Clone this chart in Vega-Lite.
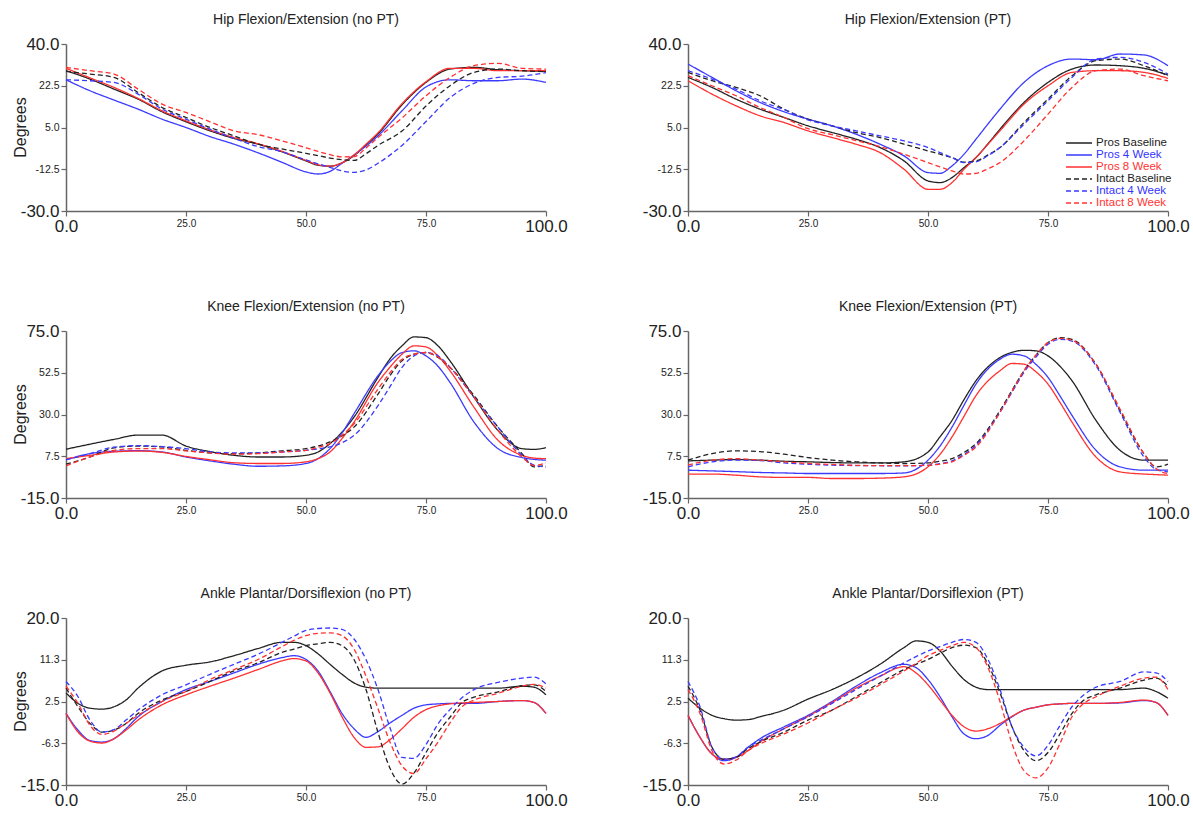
{
"$schema": "https://vega.github.io/schema/vega-lite/v6.json",
"padding": {"left": 12, "top": 13, "right": 0, "bottom": 0},
"background": "white",
"config": {
 "font": "Liberation Sans",
 "view": {"stroke": null},
 "title": {"fontSize": 14, "fontWeight": "normal", "font": "Liberation Sans", "color": "#222", "offset": 8, "anchor": "middle"},
 "axis": {"domainColor": "#666", "domainWidth": 1.5, "tickColor": "#666", "tickWidth": 1.2, "tickSize": 5, "labelColor": "#222", "labelFont": "Liberation Sans", "labelPadding": 2, "titleFont": "Liberation Sans", "titleFontSize": 16, "titleFontWeight": "normal", "titleColor": "#222", "grid": false, "labelOverlap": false, "labelFlush": false, "labelBound": false},
 "legend": {"orient": "none", "legendX": 1007, "legendY": 93, "symbolType": "M-2.6,0H2.6", "symbolStrokeWidth": 1.3, "symbolSize": 100, "labelFontSize": 11.5, "labelFont": "Liberation Sans", "rowPadding": 0, "labelOffset": 11, "padding": 0}
},
"datasets": {"gait": [
{"p":"h0","x":0,"PB":28.8,"P4":25,"P8":29.8,"IB":28.5,"I4":25,"I8":30.2},
{"p":"h0","x":5,"PB":25.3,"P4":20.4,"P8":25.8,"IB":27.4,"I4":24.6,"I8":28.8},
{"p":"h0","x":10,"PB":21.1,"P4":16.5,"P8":21.8,"IB":26,"I4":23.9,"I8":27.4},
{"p":"h0","x":15,"PB":16.9,"P4":12.7,"P8":17.2,"IB":19.7,"I4":19,"I8":21.1},
{"p":"h0","x":20,"PB":11.6,"P4":8.5,"P8":12,"IB":13.4,"I4":12.7,"I8":14.8},
{"p":"h0","x":25,"PB":7.4,"P4":5,"P8":7.8,"IB":9.2,"I4":8.5,"I8":11.3},
{"p":"h0","x":30,"PB":3.6,"P4":1.2,"P8":4,"IB":5,"I4":4.3,"I8":7.4},
{"p":"h0","x":35,"PB":0.4,"P4":-2,"P8":0.8,"IB":1.5,"I4":0.4,"I8":3.6},
{"p":"h0","x":40,"PB":-2,"P4":-5.6,"P8":-1.8,"IB":-2,"I4":-3,"I8":2},
{"p":"h0","x":45,"PB":-5.2,"P4":-9.6,"P8":-5,"IB":-4,"I4":-5.2,"I8":-0.6},
{"p":"h0","x":50,"PB":-9,"P4":-13.6,"P8":-8.8,"IB":-5.8,"I4":-8.6,"I8":-3.5},
{"p":"h0","x":52.5,"PB":-10.8,"P4":-14.5,"P8":-10.6,"IB":-6.8,"I4":-10.2,"I8":-5},
{"p":"h0","x":55,"PB":-11.2,"P4":-13.4,"P8":-11.2,"IB":-7.8,"I4":-11.7,"I8":-6.4},
{"p":"h0","x":57.5,"PB":-9.8,"P4":-10,"P8":-9.8,"IB":-8.5,"I4":-13.2,"I8":-7.3},
{"p":"h0","x":60,"PB":-6.8,"P4":-6.5,"P8":-6.5,"IB":-8.8,"I4":-13.8,"I8":-7.2},
{"p":"h0","x":62.5,"PB":-2.3,"P4":-2.8,"P8":-2,"IB":-6,"I4":-12.8,"I8":-3.6},
{"p":"h0","x":65,"PB":2.3,"P4":1.5,"P8":2.8,"IB":-2.5,"I4":-10,"I8":0.8},
{"p":"h0","x":70,"PB":14.5,"P4":12,"P8":15,"IB":3.5,"I4":-2.5,"I8":9},
{"p":"h0","x":75,"PB":23.9,"P4":22,"P8":24.2,"IB":14,"I4":7.5,"I8":18.3},
{"p":"h0","x":80,"PB":29.5,"P4":25,"P8":29.8,"IB":22.5,"I4":17.5,"I8":26},
{"p":"h0","x":85,"PB":30.2,"P4":24.6,"P8":29.8,"IB":28.1,"I4":23.5,"I8":30.9},
{"p":"h0","x":90,"PB":29.2,"P4":24.6,"P8":28.8,"IB":29.5,"I4":26,"I8":31.9},
{"p":"h0","x":95,"PB":28.8,"P4":25.3,"P8":28.8,"IB":28.8,"I4":26.5,"I8":29.8},
{"p":"h0","x":100,"PB":28.5,"P4":23.9,"P8":28.8,"IB":28.4,"I4":28,"I8":29.5},
{"p":"h1","x":0,"PB":26,"P4":31.6,"P8":24.6,"IB":28.1,"I4":28.8,"I8":26.7},
{"p":"h1","x":5,"PB":21.8,"P4":26,"P8":19,"IB":24.6,"I4":25.3,"I8":22.5},
{"p":"h1","x":10,"PB":16.9,"P4":20.4,"P8":14.1,"IB":21.8,"I4":21.1,"I8":18.3},
{"p":"h1","x":15,"PB":12.7,"P4":15.5,"P8":9.9,"IB":18.3,"I4":16.2,"I8":13.4},
{"p":"h1","x":20,"PB":9.2,"P4":11.6,"P8":7.1,"IB":12.7,"I4":12.5,"I8":9.2},
{"p":"h1","x":25,"PB":5.7,"P4":8.5,"P8":3.6,"IB":8.5,"I4":8.2,"I8":4.5},
{"p":"h1","x":30,"PB":2.9,"P4":5.7,"P8":0.8,"IB":5.7,"I4":5.7,"I8":2},
{"p":"h1","x":35,"PB":0.1,"P4":2.2,"P8":-2,"IB":2.9,"I4":3.6,"I8":-0.5},
{"p":"h1","x":40,"PB":-3.4,"P4":-2,"P8":-5.5,"IB":0.8,"I4":1.5,"I8":-3},
{"p":"h1","x":45,"PB":-9,"P4":-6.9,"P8":-12.5,"IB":-2,"I4":-0.6,"I8":-6.2},
{"p":"h1","x":50,"PB":-17.4,"P4":-13.9,"P8":-20.9,"IB":-4.8,"I4":-3.4,"I8":-9.7},
{"p":"h1","x":52.5,"PB":-18.1,"P4":-14.2,"P8":-20.9,"IB":-6.2,"I4":-5.5,"I8":-11.5},
{"p":"h1","x":55,"PB":-16,"P4":-11.1,"P8":-18.1,"IB":-7.6,"I4":-7.6,"I8":-13.2},
{"p":"h1","x":57.5,"PB":-11.8,"P4":-6.2,"P8":-12.5,"IB":-9.5,"I4":-9.7,"I8":-14.5},
{"p":"h1","x":60,"PB":-7.6,"P4":0.1,"P8":-7.6,"IB":-9,"I4":-9.4,"I8":-14.2},
{"p":"h1","x":62.5,"PB":-1.8,"P4":6.5,"P8":-2,"IB":-6.5,"I4":-6.8,"I8":-12.3},
{"p":"h1","x":65,"PB":4.3,"P4":12.7,"P8":3.6,"IB":-3.4,"I4":-3.4,"I8":-9.7},
{"p":"h1","x":70,"PB":15.5,"P4":23.9,"P8":14.8,"IB":7.1,"I4":6.4,"I8":-0.6},
{"p":"h1","x":75,"PB":23.9,"P4":30.9,"P8":22.5,"IB":16.9,"I4":16.2,"I8":10.6},
{"p":"h1","x":80,"PB":29.5,"P4":33.7,"P8":28.1,"IB":26.7,"I4":26,"I8":21.8},
{"p":"h1","x":85,"PB":31.2,"P4":33.4,"P8":28.8,"IB":33,"I4":33.7,"I8":28.8},
{"p":"h1","x":90,"PB":30.9,"P4":35.8,"P8":28.8,"IB":33.7,"I4":34.4,"I8":29.5},
{"p":"h1","x":95,"PB":29.8,"P4":35.4,"P8":28.1,"IB":30.9,"I4":32.3,"I8":26.7},
{"p":"h1","x":100,"PB":27,"P4":30.9,"P8":25.6,"IB":26.7,"I4":27.4,"I8":24.6},
{"p":"k0","x":0,"PB":11.3,"P4":5.6,"P8":6.2,"IB":3.2,"I4":5.6,"I8":2.3},
{"p":"k0","x":5,"PB":14,"P4":8.9,"P8":8,"IB":7.1,"I4":8.9,"I8":7.1},
{"p":"k0","x":10,"PB":16.6,"P4":10.2,"P8":9.8,"IB":12,"I4":12.4,"I8":10.7},
{"p":"k0","x":15,"PB":18.9,"P4":10.5,"P8":10.3,"IB":13,"I4":13.2,"I8":11.6},
{"p":"k0","x":20,"PB":18.9,"P4":9.8,"P8":9.6,"IB":12.5,"I4":12.7,"I8":11.6},
{"p":"k0","x":25,"PB":13,"P4":7.1,"P8":7.4,"IB":10.7,"I4":11.6,"I8":10.4},
{"p":"k0","x":30,"PB":10,"P4":5,"P8":5.6,"IB":9.3,"I4":9.8,"I8":9.3},
{"p":"k0","x":35,"PB":8,"P4":3.2,"P8":4,"IB":8.9,"I4":9.3,"I8":8.6},
{"p":"k0","x":40,"PB":7.1,"P4":2.1,"P8":3.6,"IB":9.3,"I4":9.3,"I8":8.9},
{"p":"k0","x":45,"PB":7.1,"P4":2.3,"P8":3.6,"IB":10.4,"I4":9.8,"I8":9.8},
{"p":"k0","x":50,"PB":8,"P4":3.6,"P8":4.5,"IB":11.6,"I4":10.7,"I8":10.7},
{"p":"k0","x":52.5,"PB":9.8,"P4":6.2,"P8":6.2,"IB":13,"I4":11.5,"I8":12.3},
{"p":"k0","x":55,"PB":14.3,"P4":11.6,"P8":9.8,"IB":15.2,"I4":12.5,"I8":14.3},
{"p":"k0","x":57.5,"PB":20.5,"P4":20,"P8":17,"IB":18.5,"I4":14.8,"I8":18.8},
{"p":"k0","x":60,"PB":28.6,"P4":30.4,"P8":25.9,"IB":23.2,"I4":18.75,"I8":25},
{"p":"k0","x":65,"PB":50,"P4":50.9,"P8":47.3,"IB":41,"I4":34.8,"I8":43.75},
{"p":"k0","x":67.5,"PB":60,"P4":58.5,"P8":55.5,"IB":51,"I4":45,"I8":52.5},
{"p":"k0","x":70,"PB":67,"P4":63.4,"P8":62.5,"IB":58.9,"I4":55.4,"I8":59.8},
{"p":"k0","x":72.5,"PB":71.8,"P4":64.3,"P8":67,"IB":62.5,"I4":61.6,"I8":62.5},
{"p":"k0","x":75,"PB":71.4,"P4":61.6,"P8":66.4,"IB":63.4,"I4":63.4,"I8":63.4},
{"p":"k0","x":77.5,"PB":67,"P4":56,"P8":61.6,"IB":60.7,"I4":61.6,"I8":61},
{"p":"k0","x":80,"PB":58.9,"P4":47.3,"P8":53.6,"IB":55.4,"I4":55.4,"I8":55.4},
{"p":"k0","x":85,"PB":39.3,"P4":25.9,"P8":33.9,"IB":40.2,"I4":39.3,"I8":39.3},
{"p":"k0","x":90,"PB":21.4,"P4":11.6,"P8":16.1,"IB":23.2,"I4":23.2,"I8":21.4},
{"p":"k0","x":95,"PB":11.6,"P4":6.8,"P8":8,"IB":8.9,"I4":8,"I8":7.1},
{"p":"k0","x":97.5,"PB":11.2,"P4":5.8,"P8":6.5,"IB":1.8,"I4":2.7,"I8":2.5},
{"p":"k0","x":100,"PB":12.1,"P4":5.4,"P8":6.2,"IB":2.7,"I4":1.8,"I8":4},
{"p":"k1","x":0,"PB":5,"P4":0,"P8":-2.1,"IB":5.4,"I4":1.8,"I8":2.7},
{"p":"k1","x":5,"PB":5.4,"P4":-0.4,"P8":-2.1,"IB":8.9,"I4":4.5,"I8":5.4},
{"p":"k1","x":10,"PB":5.7,"P4":-0.8,"P8":-2.7,"IB":10.4,"I4":5.4,"I8":6.2},
{"p":"k1","x":15,"PB":5.4,"P4":-1.25,"P8":-3.6,"IB":10,"I4":5.2,"I8":5.4},
{"p":"k1","x":20,"PB":4.8,"P4":-1.5,"P8":-3.9,"IB":8.6,"I4":3.9,"I8":4.5},
{"p":"k1","x":25,"PB":4.5,"P4":-1.8,"P8":-3.9,"IB":6.8,"I4":3.2,"I8":3.6},
{"p":"k1","x":30,"PB":4.1,"P4":-1.8,"P8":-4.5,"IB":5.4,"I4":2.7,"I8":3.1},
{"p":"k1","x":35,"PB":3.9,"P4":-1.8,"P8":-4.5,"IB":4.5,"I4":2.5,"I8":2.6},
{"p":"k1","x":40,"PB":3.9,"P4":-1.8,"P8":-4.3,"IB":3.9,"I4":2.4,"I8":2.4},
{"p":"k1","x":45,"PB":4.5,"P4":-1.5,"P8":-3.6,"IB":3.6,"I4":2.3,"I8":2.4},
{"p":"k1","x":50,"PB":9.8,"P4":5.4,"P8":1.8,"IB":3.9,"I4":2.7,"I8":2.6},
{"p":"k1","x":52.5,"PB":18,"P4":13,"P8":8.5,"IB":4.8,"I4":3.5,"I8":3.3},
{"p":"k1","x":55,"PB":26.8,"P4":23.2,"P8":17.9,"IB":6.2,"I4":5,"I8":4.5},
{"p":"k1","x":57.5,"PB":38,"P4":35,"P8":29,"IB":9.5,"I4":8.5,"I8":8},
{"p":"k1","x":60,"PB":48.2,"P4":46.4,"P8":40.2,"IB":14.3,"I4":13.4,"I8":12.5},
{"p":"k1","x":65,"PB":60.7,"P4":59.8,"P8":53.6,"IB":32.1,"I4":31.25,"I8":31.25},
{"p":"k1","x":67.5,"PB":63.5,"P4":62.5,"P8":57.5,"IB":43,"I4":42,"I8":42.5},
{"p":"k1","x":70,"PB":64.6,"P4":61.6,"P8":57.1,"IB":53.6,"I4":52.7,"I8":53.6},
{"p":"k1","x":72.5,"PB":64.3,"P4":57,"P8":53,"IB":62,"I4":61,"I8":62},
{"p":"k1","x":75,"PB":61.6,"P4":50,"P8":46.4,"IB":68.75,"I4":67.9,"I8":68.75},
{"p":"k1","x":77.5,"PB":56,"P4":40,"P8":36.5,"IB":71.4,"I4":70.5,"I8":71},
{"p":"k1","x":80,"PB":48.2,"P4":29.5,"P8":25.9,"IB":70.5,"I4":69.6,"I8":70},
{"p":"k1","x":85,"PB":26.8,"P4":10.7,"P8":7.1,"IB":57.1,"I4":56.25,"I8":57.1},
{"p":"k1","x":90,"PB":10.7,"P4":1.8,"P8":-0.9,"IB":32.1,"I4":31.25,"I8":33},
{"p":"k1","x":95,"PB":5.4,"P4":0,"P8":-2.1,"IB":8.9,"I4":7.1,"I8":8.9},
{"p":"k1","x":97.5,"PB":5.4,"P4":0,"P8":-2.4,"IB":1.8,"I4":0.4,"I8":0.9},
{"p":"k1","x":100,"PB":5.4,"P4":0,"P8":-2.7,"IB":3.2,"I4":-0.9,"I8":-1.8},
{"p":"a0","x":0,"PB":4.3,"P4":0,"P8":0,"IB":5.3,"I4":6.7,"I8":5.7},
{"p":"a0","x":2.5,"PB":2.1,"P4":-3.5,"P8":-3.9,"IB":1.4,"I4":3.5,"I8":2.1},
{"p":"a0","x":5,"PB":1.1,"P4":-5.7,"P8":-5.8,"IB":-2.1,"I4":-1.4,"I8":-2.5},
{"p":"a0","x":7.5,"PB":0.9,"P4":-6,"P8":-6.2,"IB":-3.9,"I4":-3.9,"I8":-4.4},
{"p":"a0","x":10,"PB":1.4,"P4":-5.3,"P8":-5.3,"IB":-3.5,"I4":-3.4,"I8":-3.7},
{"p":"a0","x":12.5,"PB":2.8,"P4":-3.2,"P8":-3.5,"IB":-2.1,"I4":-1.4,"I8":-2.1},
{"p":"a0","x":15,"PB":5.3,"P4":-0.7,"P8":-1.4,"IB":0,"I4":0.7,"I8":-0.4},
{"p":"a0","x":20,"PB":8.9,"P4":2.5,"P8":1.8,"IB":2.8,"I4":3.9,"I8":2.5},
{"p":"a0","x":25,"PB":10.1,"P4":5,"P8":3.9,"IB":4.6,"I4":6,"I8":4.6},
{"p":"a0","x":30,"PB":10.8,"P4":6.7,"P8":5.7,"IB":6.7,"I4":8.2,"I8":7.1},
{"p":"a0","x":35,"PB":12.1,"P4":8.5,"P8":7.4,"IB":8.9,"I4":10.3,"I8":9.2},
{"p":"a0","x":40,"PB":13.6,"P4":10.3,"P8":9.2,"IB":10.6,"I4":12.4,"I8":11.3},
{"p":"a0","x":45,"PB":14.9,"P4":11.7,"P8":11,"IB":12.8,"I4":14.9,"I8":14},
{"p":"a0","x":47.5,"PB":14.9,"P4":12.1,"P8":11.5,"IB":13.5,"I4":16.2,"I8":15.3},
{"p":"a0","x":50,"PB":14.2,"P4":11.3,"P8":11,"IB":14.2,"I4":17.4,"I8":16.3},
{"p":"a0","x":52.5,"PB":12.5,"P4":8.9,"P8":8.5,"IB":14.6,"I4":17.8,"I8":16.8},
{"p":"a0","x":55,"PB":10.3,"P4":4.6,"P8":4.3,"IB":14.9,"I4":17.9,"I8":16.9},
{"p":"a0","x":57.5,"PB":8.2,"P4":0,"P8":-0.7,"IB":14.2,"I4":17.6,"I8":16.3},
{"p":"a0","x":60,"PB":6.4,"P4":-3.2,"P8":-5,"IB":11.3,"I4":15.6,"I8":13.5},
{"p":"a0","x":62.5,"PB":5.5,"P4":-5,"P8":-7.1,"IB":5,"I4":11.3,"I8":7.8},
{"p":"a0","x":65,"PB":5.3,"P4":-3.8,"P8":-7,"IB":-4,"I4":5,"I8":1},
{"p":"a0","x":67.5,"PB":5.3,"P4":-2,"P8":-5.5,"IB":-11.5,"I4":-3,"I8":-6},
{"p":"a0","x":70,"PB":5.3,"P4":-0.4,"P8":-3.2,"IB":-14.8,"I4":-9.2,"I8":-11},
{"p":"a0","x":72.5,"PB":5.3,"P4":1.1,"P8":-0.8,"IB":-12.5,"I4":-9.4,"I8":-12.6},
{"p":"a0","x":75,"PB":5.3,"P4":1.8,"P8":0.8,"IB":-8.2,"I4":-6.5,"I8":-9.5},
{"p":"a0","x":77.5,"PB":5.3,"P4":2,"P8":1.6,"IB":-4,"I4":-2.2,"I8":-6},
{"p":"a0","x":80,"PB":5.3,"P4":2.1,"P8":2,"IB":-0.8,"I4":0.8,"I8":-2},
{"p":"a0","x":82.5,"PB":5.3,"P4":2.1,"P8":2.2,"IB":2.3,"I4":3.3,"I8":1.4},
{"p":"a0","x":85,"PB":5.3,"P4":2.1,"P8":2.3,"IB":3.4,"I4":5,"I8":2.8},
{"p":"a0","x":90,"PB":5.3,"P4":2.5,"P8":2.5,"IB":4.5,"I4":6.5,"I8":4.2},
{"p":"a0","x":95,"PB":5.7,"P4":2.7,"P8":2.7,"IB":5.8,"I4":7.4,"I8":5.7},
{"p":"a0","x":97.5,"PB":5.5,"P4":2.3,"P8":2.3,"IB":6,"I4":7.6,"I8":6.1},
{"p":"a0","x":100,"PB":3.9,"P4":0,"P8":0,"IB":4.6,"I4":6.2,"I8":5.3},
{"p":"a1","x":0,"PB":3.2,"P4":-0.4,"P8":-0.4,"IB":5.7,"I4":6.7,"I8":5},
{"p":"a1","x":2.5,"PB":1.1,"P4":-5,"P8":-5,"IB":0.7,"I4":1.4,"I8":0},
{"p":"a1","x":5,"PB":-0.4,"P4":-8.5,"P8":-8.5,"IB":-7.1,"I4":-7.1,"I8":-7.8},
{"p":"a1","x":7.5,"PB":-1.1,"P4":-9.9,"P8":-9.6,"IB":-9.6,"I4":-9.6,"I8":-10.6},
{"p":"a1","x":10,"PB":-1.4,"P4":-9.2,"P8":-9.2,"IB":-9.2,"I4":-9.1,"I8":-9.8},
{"p":"a1","x":12.5,"PB":-1.3,"P4":-7.1,"P8":-7.8,"IB":-7.4,"I4":-7.1,"I8":-7.8},
{"p":"a1","x":15,"PB":-0.7,"P4":-5.3,"P8":-6,"IB":-6,"I4":-5.7,"I8":-6.4},
{"p":"a1","x":20,"PB":0.7,"P4":-2.8,"P8":-3.2,"IB":-3.9,"I4":-3.2,"I8":-4.3},
{"p":"a1","x":25,"PB":3,"P4":-0.4,"P8":-0.6,"IB":-1.4,"I4":-0.7,"I8":-2},
{"p":"a1","x":30,"PB":5,"P4":2.5,"P8":2.3,"IB":0.7,"I4":2.1,"I8":0.7},
{"p":"a1","x":35,"PB":7.4,"P4":5.7,"P8":5.3,"IB":3.5,"I4":5,"I8":3.2},
{"p":"a1","x":40,"PB":10.3,"P4":8.5,"P8":7.8,"IB":6.4,"I4":7.8,"I8":6},
{"p":"a1","x":45,"PB":13.8,"P4":10.3,"P8":9.8,"IB":9.2,"I4":10.6,"I8":8.9},
{"p":"a1","x":47.5,"PB":15.2,"P4":9.6,"P8":8.5,"IB":10.3,"I4":11.9,"I8":10.5},
{"p":"a1","x":50,"PB":14.9,"P4":7.1,"P8":6,"IB":11.3,"I4":13.1,"I8":12.1},
{"p":"a1","x":52.5,"PB":13.1,"P4":3.5,"P8":2.8,"IB":12.6,"I4":14,"I8":13.2},
{"p":"a1","x":55,"PB":9.9,"P4":-0.7,"P8":-0.4,"IB":13.8,"I4":14.9,"I8":14.2},
{"p":"a1","x":57.5,"PB":7.1,"P4":-4.3,"P8":-2.8,"IB":14.3,"I4":15.5,"I8":14.9},
{"p":"a1","x":60,"PB":5.5,"P4":-5.3,"P8":-3.7,"IB":13.8,"I4":14.9,"I8":13.8},
{"p":"a1","x":62.5,"PB":5,"P4":-4.6,"P8":-3.2,"IB":10.3,"I4":11.3,"I8":9.6},
{"p":"a1","x":65,"PB":5,"P4":-2.5,"P8":-2.1,"IB":4.3,"I4":5,"I8":2.5},
{"p":"a1","x":67.5,"PB":5,"P4":-0.7,"P8":-0.6,"IB":-2.8,"I4":-2.8,"I8":-6.3},
{"p":"a1","x":70,"PB":5,"P4":0.7,"P8":0.7,"IB":-7.8,"I4":-7.1,"I8":-12},
{"p":"a1","x":72.5,"PB":5,"P4":1.3,"P8":1.3,"IB":-9.9,"I4":-8.9,"I8":-13.5},
{"p":"a1","x":75,"PB":5,"P4":1.8,"P8":1.8,"IB":-8.2,"I4":-6.7,"I8":-11.4},
{"p":"a1","x":77.5,"PB":5,"P4":2,"P8":2,"IB":-4.3,"I4":-2.5,"I8":-6.3},
{"p":"a1","x":80,"PB":5,"P4":2.1,"P8":2.1,"IB":0,"I4":1.4,"I8":-0.7},
{"p":"a1","x":82.5,"PB":5,"P4":2.1,"P8":2.1,"IB":2.8,"I4":3.9,"I8":2.1},
{"p":"a1","x":85,"PB":5,"P4":2.1,"P8":2.1,"IB":3.9,"I4":5.5,"I8":3.5},
{"p":"a1","x":90,"PB":5,"P4":2.2,"P8":2.3,"IB":5.3,"I4":6.7,"I8":5.7},
{"p":"a1","x":95,"PB":5.3,"P4":2.7,"P8":2.8,"IB":7,"I4":8.7,"I8":7.4},
{"p":"a1","x":97.5,"PB":4.6,"P4":2.3,"P8":2.3,"IB":7.4,"I4":8.5,"I8":7.6},
{"p":"a1","x":100,"PB":3.2,"P4":-0.4,"P8":-0.4,"IB":5.7,"I4":6.7,"I8":5}
]},
"bounds": "flush",
"columns": 2,
"spacing": {"row": 120, "column": 142},
"concat": [
  {"title": "Hip Flexion/Extension (no PT)", "width": 480, "height": 167, "layer": [
   {"mark": {"type": "rule", "color": "#f3f3f3", "strokeWidth": 1}, "encoding": {"y": {"datum": 0, "type": "quantitative"}}},
   {"data": {"name": "gait"}, "transform": [{"filter": "datum.p == 'h0'"}, {"fold": ["PB","P4","P8","IB","I4","I8"], "as": ["series","deg"]}],
    "mark": {"type": "line", "interpolate": "monotone", "strokeWidth": 1.3},
    "encoding": {
     "x": {"field": "x", "type": "quantitative", "scale": {"domain": [0,100], "nice": false}, "axis": {"values": [0,25,50,75,100], "format": ".1f", "title": null, "labelFontSize": {"condition": {"test": "datum.value==0||datum.value==100", "value": 17}, "value": 10}}},
     "y": {"field": "deg", "type": "quantitative", "scale": {"domain": [-30,40], "nice": false, "zero": false}, "axis": {"values": [-30,-12.5,5,22.5,40], "labelExpr": "(datum.value<0?'-':'')+format(abs(datum.value),'.1f')", "labelFontSize": {"condition": {"test": "datum.value==40||datum.value==-30", "value": 17}, "value": 10.5}, "title": "Degrees", "titleX": -38, "titleY": 83}},
     "color": {"field": "series", "type": "nominal", "scale": {"domain": ["PB","P4","P8","IB","I4","I8"], "range": ["#222222","#3a3aff","#ff3030","#222222","#3a3aff","#ff3030"]}, "legend": {"title": null, "labelExpr": "datum.value=='PB'?'Pros Baseline':datum.value=='P4'?'Pros 4 Week':datum.value=='P8'?'Pros 8 Week':datum.value=='IB'?'Intact Baseline':datum.value=='I4'?'Intact 4 Week':'Intact 8 Week'", "encode": {"labels": {"update": {"fill": {"signal": "datum.value=='P4'||datum.value=='I4'?'#3333ff':datum.value=='P8'||datum.value=='I8'?'#ff3333':'#222222'"}}}}}},
     "strokeDash": {"field": "series", "type": "nominal", "scale": {"domain": ["PB","P4","P8","IB","I4","I8"], "range": [[1,0],[1,0],[1,0],[5,3],[5,3],[5,3]]}, "legend": {"title": null, "labelExpr": "datum.value=='PB'?'Pros Baseline':datum.value=='P4'?'Pros 4 Week':datum.value=='P8'?'Pros 8 Week':datum.value=='IB'?'Intact Baseline':datum.value=='I4'?'Intact 4 Week':'Intact 8 Week'", "encode": {"labels": {"update": {"fill": {"signal": "datum.value=='P4'||datum.value=='I4'?'#3333ff':datum.value=='P8'||datum.value=='I8'?'#ff3333':'#222222'"}}}}}}
    }}
  ]},
  {"title": "Hip Flexion/Extension (PT)", "width": 480, "height": 167, "layer": [
   {"mark": {"type": "rule", "color": "#f3f3f3", "strokeWidth": 1}, "encoding": {"y": {"datum": 0, "type": "quantitative"}}},
   {"data": {"name": "gait"}, "transform": [{"filter": "datum.p == 'h1'"}, {"fold": ["PB","P4","P8","IB","I4","I8"], "as": ["series","deg"]}],
    "mark": {"type": "line", "interpolate": "monotone", "strokeWidth": 1.3},
    "encoding": {
     "x": {"field": "x", "type": "quantitative", "scale": {"domain": [0,100], "nice": false}, "axis": {"values": [0,25,50,75,100], "format": ".1f", "title": null, "labelFontSize": {"condition": {"test": "datum.value==0||datum.value==100", "value": 17}, "value": 10}}},
     "y": {"field": "deg", "type": "quantitative", "scale": {"domain": [-30,40], "nice": false, "zero": false}, "axis": {"values": [-30,-12.5,5,22.5,40], "labelExpr": "(datum.value<0?'-':'')+format(abs(datum.value),'.1f')", "labelFontSize": {"condition": {"test": "datum.value==40||datum.value==-30", "value": 17}, "value": 10.5}, "title": null}},
     "color": {"field": "series", "type": "nominal", "scale": {"domain": ["PB","P4","P8","IB","I4","I8"], "range": ["#222222","#3a3aff","#ff3030","#222222","#3a3aff","#ff3030"]}, "legend": {"title": null, "labelExpr": "datum.value=='PB'?'Pros Baseline':datum.value=='P4'?'Pros 4 Week':datum.value=='P8'?'Pros 8 Week':datum.value=='IB'?'Intact Baseline':datum.value=='I4'?'Intact 4 Week':'Intact 8 Week'", "encode": {"labels": {"update": {"fill": {"signal": "datum.value=='P4'||datum.value=='I4'?'#3333ff':datum.value=='P8'||datum.value=='I8'?'#ff3333':'#222222'"}}}}}},
     "strokeDash": {"field": "series", "type": "nominal", "scale": {"domain": ["PB","P4","P8","IB","I4","I8"], "range": [[1,0],[1,0],[1,0],[5,3],[5,3],[5,3]]}, "legend": {"title": null, "labelExpr": "datum.value=='PB'?'Pros Baseline':datum.value=='P4'?'Pros 4 Week':datum.value=='P8'?'Pros 8 Week':datum.value=='IB'?'Intact Baseline':datum.value=='I4'?'Intact 4 Week':'Intact 8 Week'", "encode": {"labels": {"update": {"fill": {"signal": "datum.value=='P4'||datum.value=='I4'?'#3333ff':datum.value=='P8'||datum.value=='I8'?'#ff3333':'#222222'"}}}}}}
    }}
  ]},
  {"title": "Knee Flexion/Extension (no PT)", "width": 480, "height": 167, "layer": [
   {"mark": {"type": "rule", "color": "#8a8a8a", "strokeWidth": 1.5}, "encoding": {"y": {"datum": 0, "type": "quantitative"}}},
   {"data": {"name": "gait"}, "transform": [{"filter": "datum.p == 'k0'"}, {"fold": ["PB","P4","P8","IB","I4","I8"], "as": ["series","deg"]}],
    "mark": {"type": "line", "interpolate": "monotone", "strokeWidth": 1.3},
    "encoding": {
     "x": {"field": "x", "type": "quantitative", "scale": {"domain": [0,100], "nice": false}, "axis": {"values": [0,25,50,75,100], "format": ".1f", "title": null, "labelFontSize": {"condition": {"test": "datum.value==0||datum.value==100", "value": 17}, "value": 10}}},
     "y": {"field": "deg", "type": "quantitative", "scale": {"domain": [-15,75], "nice": false, "zero": false}, "axis": {"values": [-15,7.5,30,52.5,75], "labelExpr": "(datum.value<0?'-':'')+format(abs(datum.value),'.1f')", "labelFontSize": {"condition": {"test": "datum.value==75||datum.value==-15", "value": 17}, "value": 10.5}, "title": "Degrees", "titleX": -38, "titleY": 83}},
     "color": {"field": "series", "type": "nominal", "scale": {"domain": ["PB","P4","P8","IB","I4","I8"], "range": ["#222222","#3a3aff","#ff3030","#222222","#3a3aff","#ff3030"]}, "legend": {"title": null, "labelExpr": "datum.value=='PB'?'Pros Baseline':datum.value=='P4'?'Pros 4 Week':datum.value=='P8'?'Pros 8 Week':datum.value=='IB'?'Intact Baseline':datum.value=='I4'?'Intact 4 Week':'Intact 8 Week'", "encode": {"labels": {"update": {"fill": {"signal": "datum.value=='P4'||datum.value=='I4'?'#3333ff':datum.value=='P8'||datum.value=='I8'?'#ff3333':'#222222'"}}}}}},
     "strokeDash": {"field": "series", "type": "nominal", "scale": {"domain": ["PB","P4","P8","IB","I4","I8"], "range": [[1,0],[1,0],[1,0],[5,3],[5,3],[5,3]]}, "legend": {"title": null, "labelExpr": "datum.value=='PB'?'Pros Baseline':datum.value=='P4'?'Pros 4 Week':datum.value=='P8'?'Pros 8 Week':datum.value=='IB'?'Intact Baseline':datum.value=='I4'?'Intact 4 Week':'Intact 8 Week'", "encode": {"labels": {"update": {"fill": {"signal": "datum.value=='P4'||datum.value=='I4'?'#3333ff':datum.value=='P8'||datum.value=='I8'?'#ff3333':'#222222'"}}}}}}
    }}
  ]},
  {"title": "Knee Flexion/Extension (PT)", "width": 480, "height": 167, "layer": [
   {"mark": {"type": "rule", "color": "#8a8a8a", "strokeWidth": 1.5}, "encoding": {"y": {"datum": 0, "type": "quantitative"}}},
   {"data": {"name": "gait"}, "transform": [{"filter": "datum.p == 'k1'"}, {"fold": ["PB","P4","P8","IB","I4","I8"], "as": ["series","deg"]}],
    "mark": {"type": "line", "interpolate": "monotone", "strokeWidth": 1.3},
    "encoding": {
     "x": {"field": "x", "type": "quantitative", "scale": {"domain": [0,100], "nice": false}, "axis": {"values": [0,25,50,75,100], "format": ".1f", "title": null, "labelFontSize": {"condition": {"test": "datum.value==0||datum.value==100", "value": 17}, "value": 10}}},
     "y": {"field": "deg", "type": "quantitative", "scale": {"domain": [-15,75], "nice": false, "zero": false}, "axis": {"values": [-15,7.5,30,52.5,75], "labelExpr": "(datum.value<0?'-':'')+format(abs(datum.value),'.1f')", "labelFontSize": {"condition": {"test": "datum.value==75||datum.value==-15", "value": 17}, "value": 10.5}, "title": null}},
     "color": {"field": "series", "type": "nominal", "scale": {"domain": ["PB","P4","P8","IB","I4","I8"], "range": ["#222222","#3a3aff","#ff3030","#222222","#3a3aff","#ff3030"]}, "legend": {"title": null, "labelExpr": "datum.value=='PB'?'Pros Baseline':datum.value=='P4'?'Pros 4 Week':datum.value=='P8'?'Pros 8 Week':datum.value=='IB'?'Intact Baseline':datum.value=='I4'?'Intact 4 Week':'Intact 8 Week'", "encode": {"labels": {"update": {"fill": {"signal": "datum.value=='P4'||datum.value=='I4'?'#3333ff':datum.value=='P8'||datum.value=='I8'?'#ff3333':'#222222'"}}}}}},
     "strokeDash": {"field": "series", "type": "nominal", "scale": {"domain": ["PB","P4","P8","IB","I4","I8"], "range": [[1,0],[1,0],[1,0],[5,3],[5,3],[5,3]]}, "legend": {"title": null, "labelExpr": "datum.value=='PB'?'Pros Baseline':datum.value=='P4'?'Pros 4 Week':datum.value=='P8'?'Pros 8 Week':datum.value=='IB'?'Intact Baseline':datum.value=='I4'?'Intact 4 Week':'Intact 8 Week'", "encode": {"labels": {"update": {"fill": {"signal": "datum.value=='P4'||datum.value=='I4'?'#3333ff':datum.value=='P8'||datum.value=='I8'?'#ff3333':'#222222'"}}}}}}
    }}
  ]},
  {"title": "Ankle Plantar/Dorsiflexion (no PT)", "width": 480, "height": 167, "layer": [
   {"mark": {"type": "rule", "color": "#8a8a8a", "strokeWidth": 1.5}, "encoding": {"y": {"datum": 0, "type": "quantitative"}}},
   {"data": {"name": "gait"}, "transform": [{"filter": "datum.p == 'a0'"}, {"fold": ["PB","P4","P8","IB","I4","I8"], "as": ["series","deg"]}],
    "mark": {"type": "line", "interpolate": "monotone", "strokeWidth": 1.3},
    "encoding": {
     "x": {"field": "x", "type": "quantitative", "scale": {"domain": [0,100], "nice": false}, "axis": {"values": [0,25,50,75,100], "format": ".1f", "title": null, "labelFontSize": {"condition": {"test": "datum.value==0||datum.value==100", "value": 17}, "value": 10}}},
     "y": {"field": "deg", "type": "quantitative", "scale": {"domain": [-15,20], "nice": false, "zero": false}, "axis": {"values": [-15,-6.25,2.5,11.25,20], "labelExpr": "(datum.value<0?'-':'')+format(abs(datum.value),'.1f')", "labelFontSize": {"condition": {"test": "datum.value==20||datum.value==-15", "value": 17}, "value": 10.5}, "title": "Degrees", "titleX": -38, "titleY": 83}},
     "color": {"field": "series", "type": "nominal", "scale": {"domain": ["PB","P4","P8","IB","I4","I8"], "range": ["#222222","#3a3aff","#ff3030","#222222","#3a3aff","#ff3030"]}, "legend": {"title": null, "labelExpr": "datum.value=='PB'?'Pros Baseline':datum.value=='P4'?'Pros 4 Week':datum.value=='P8'?'Pros 8 Week':datum.value=='IB'?'Intact Baseline':datum.value=='I4'?'Intact 4 Week':'Intact 8 Week'", "encode": {"labels": {"update": {"fill": {"signal": "datum.value=='P4'||datum.value=='I4'?'#3333ff':datum.value=='P8'||datum.value=='I8'?'#ff3333':'#222222'"}}}}}},
     "strokeDash": {"field": "series", "type": "nominal", "scale": {"domain": ["PB","P4","P8","IB","I4","I8"], "range": [[1,0],[1,0],[1,0],[5,3],[5,3],[5,3]]}, "legend": {"title": null, "labelExpr": "datum.value=='PB'?'Pros Baseline':datum.value=='P4'?'Pros 4 Week':datum.value=='P8'?'Pros 8 Week':datum.value=='IB'?'Intact Baseline':datum.value=='I4'?'Intact 4 Week':'Intact 8 Week'", "encode": {"labels": {"update": {"fill": {"signal": "datum.value=='P4'||datum.value=='I4'?'#3333ff':datum.value=='P8'||datum.value=='I8'?'#ff3333':'#222222'"}}}}}}
    }}
  ]},
  {"title": "Ankle Plantar/Dorsiflexion (PT)", "width": 480, "height": 167, "layer": [
   {"mark": {"type": "rule", "color": "#8a8a8a", "strokeWidth": 1.5}, "encoding": {"y": {"datum": 0, "type": "quantitative"}}},
   {"data": {"name": "gait"}, "transform": [{"filter": "datum.p == 'a1'"}, {"fold": ["PB","P4","P8","IB","I4","I8"], "as": ["series","deg"]}],
    "mark": {"type": "line", "interpolate": "monotone", "strokeWidth": 1.3},
    "encoding": {
     "x": {"field": "x", "type": "quantitative", "scale": {"domain": [0,100], "nice": false}, "axis": {"values": [0,25,50,75,100], "format": ".1f", "title": null, "labelFontSize": {"condition": {"test": "datum.value==0||datum.value==100", "value": 17}, "value": 10}}},
     "y": {"field": "deg", "type": "quantitative", "scale": {"domain": [-15,20], "nice": false, "zero": false}, "axis": {"values": [-15,-6.25,2.5,11.25,20], "labelExpr": "(datum.value<0?'-':'')+format(abs(datum.value),'.1f')", "labelFontSize": {"condition": {"test": "datum.value==20||datum.value==-15", "value": 17}, "value": 10.5}, "title": null}},
     "color": {"field": "series", "type": "nominal", "scale": {"domain": ["PB","P4","P8","IB","I4","I8"], "range": ["#222222","#3a3aff","#ff3030","#222222","#3a3aff","#ff3030"]}, "legend": {"title": null, "labelExpr": "datum.value=='PB'?'Pros Baseline':datum.value=='P4'?'Pros 4 Week':datum.value=='P8'?'Pros 8 Week':datum.value=='IB'?'Intact Baseline':datum.value=='I4'?'Intact 4 Week':'Intact 8 Week'", "encode": {"labels": {"update": {"fill": {"signal": "datum.value=='P4'||datum.value=='I4'?'#3333ff':datum.value=='P8'||datum.value=='I8'?'#ff3333':'#222222'"}}}}}},
     "strokeDash": {"field": "series", "type": "nominal", "scale": {"domain": ["PB","P4","P8","IB","I4","I8"], "range": [[1,0],[1,0],[1,0],[5,3],[5,3],[5,3]]}, "legend": {"title": null, "labelExpr": "datum.value=='PB'?'Pros Baseline':datum.value=='P4'?'Pros 4 Week':datum.value=='P8'?'Pros 8 Week':datum.value=='IB'?'Intact Baseline':datum.value=='I4'?'Intact 4 Week':'Intact 8 Week'", "encode": {"labels": {"update": {"fill": {"signal": "datum.value=='P4'||datum.value=='I4'?'#3333ff':datum.value=='P8'||datum.value=='I8'?'#ff3333':'#222222'"}}}}}}
    }}
  ]}
]
}
